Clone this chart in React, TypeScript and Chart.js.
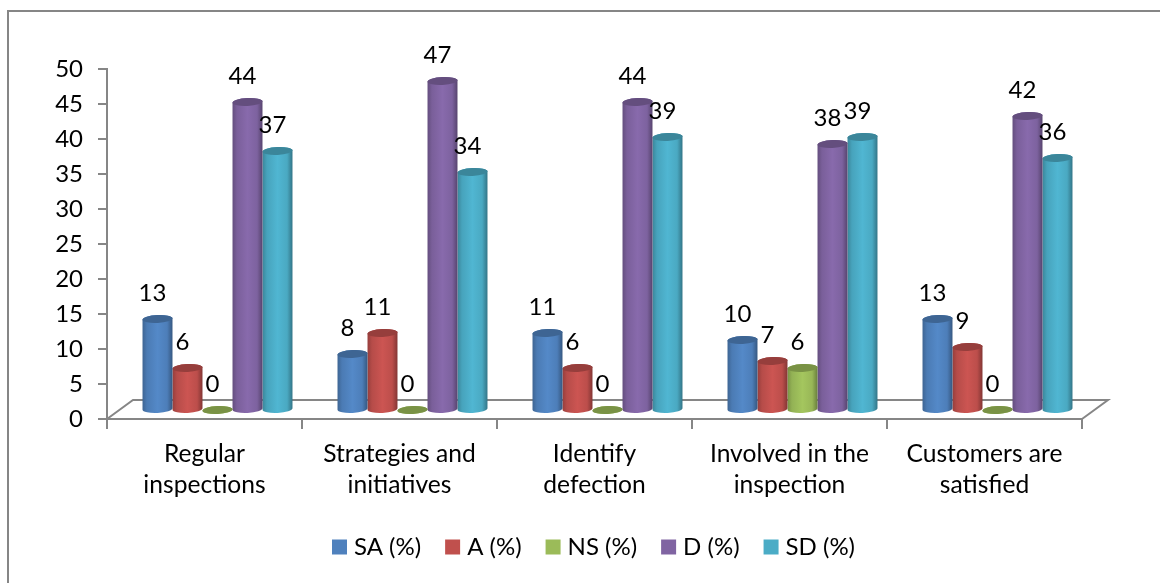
import React, { useEffect, useRef } from "react";
import { Chart, registerables } from "chart.js";

Chart.register(...registerables);

const categories = [
  ["Regular", "inspections"],
  ["Strategies and", "initiatives"],
  ["Identify", "defection"],
  ["Involved in the", "inspection"],
  ["Customers are", "satisfied"],
];
const saValues = [13, 8, 11, 10, 13];
const aValues = [6, 11, 6, 7, 9];
const nsValues = [0, 0, 0, 6, 0];
const dValues = [44, 47, 44, 38, 42];
const sdValues = [37, 34, 39, 39, 36];

const FONT = "Lato";
const GREY = "#868686";
const DEPTH_X = 13;
const DEPTH_Y = -9;
const FLOOR_X = 26;
const FLOOR_Y = -19;

function shade(hex: string, f: number) {
  const n = parseInt(hex.slice(1), 16);
  const c = [(n >> 16) & 255, (n >> 8) & 255, n & 255].map((v) => Math.min(255, Math.round(v * f)));
  return `rgb(${c[0]},${c[1]},${c[2]})`;
}

const cylinders = {
  id: "cylinders",
  afterLayout(chart: any) {
    const l = chart.legend;
    l.left = 0;
    l.right = 1192;
    l.top -= 14;
    l.bottom -= 14;
  },
  beforeDatasetsDraw(chart: any) {
    const { ctx, chartArea: a } = chart;
    ctx.save();
    ctx.strokeStyle = GREY;
    ctx.lineWidth = 2;
    ctx.beginPath();
    ctx.moveTo(a.left, a.bottom);
    ctx.lineTo(a.left + FLOOR_X, a.bottom + FLOOR_Y);
    ctx.lineTo(a.right + FLOOR_X, a.bottom + FLOOR_Y);
    ctx.lineTo(a.right, a.bottom);
    ctx.stroke();
    ctx.restore();
  },
  beforeDatasetDraw(chart: any, args: any) {
    const { ctx } = chart;
    const color = chart.data.datasets[args.index].backgroundColor as string;
    const meta = chart.getDatasetMeta(args.index);
    const ry = 4;
    const tilt = 0.05;
    for (const bar of meta.data as any[]) {
      const cx = bar.x + DEPTH_X;
      const r = bar.width / 2;
      const top = bar.y + DEPTH_Y;
      const base = bar.base + DEPTH_Y;
      const g = ctx.createLinearGradient(cx - r, 0, cx + r, 0);
      g.addColorStop(0, shade(color, 0.78));
      g.addColorStop(0.15, shade(color, 0.95));
      g.addColorStop(0.5, shade(color, 1.06));
      g.addColorStop(0.82, shade(color, 0.98));
      g.addColorStop(1, shade(color, 0.68));
      ctx.save();
      ctx.fillStyle = g;
      ctx.beginPath();
      ctx.ellipse(cx, base, r, ry, -tilt, 0, Math.PI);
      ctx.ellipse(cx, top, r, ry, -tilt, Math.PI, Math.PI * 2);
      ctx.closePath();
      ctx.fill();
      ctx.fillStyle = shade(color, 0.78);
      ctx.beginPath();
      ctx.ellipse(cx, top, r, ry, -tilt, 0, Math.PI * 2);
      ctx.fill();
      ctx.restore();
    }
    return false;
  },
  afterDatasetsDraw(chart: any) {
    const { ctx } = chart;
    ctx.save();
    ctx.fillStyle = "#000";
    ctx.font = `24px ${FONT}`;
    ctx.textAlign = "center";
    ctx.textBaseline = "middle";
    chart.data.datasets.forEach((ds: any, i: number) => {
      chart.getDatasetMeta(i).data.forEach((bar: any, j: number) => {
        ctx.fillText(String(ds.data[j]), bar.x + DEPTH_X - 5, bar.y + DEPTH_Y - 26);
      });
    });
    ctx.restore();
  },
};

export default function App() {
  const ref = useRef<HTMLCanvasElement>(null);
  useEffect(() => {
    const chart = new Chart(ref.current!, {
      type: "bar",
      data: {
        labels: categories,
        datasets: [
          { label: "SA (%)", data: saValues, backgroundColor: "#4f81bd" },
          { label: "A (%)", data: aValues, backgroundColor: "#c0504d" },
          { label: "NS (%)", data: nsValues, backgroundColor: "#9bbb59" },
          { label: "D (%)", data: dValues, backgroundColor: "#8064a2" },
          { label: "SD (%)", data: sdValues, backgroundColor: "#4bacc6" },
        ],
      },
      options: {
        responsive: false,
        animation: false,
        layout: { padding: { top: 69, right: 78, left: 0, bottom: 0 } },
        datasets: { bar: { barPercentage: 1, categoryPercentage: 150 / 195 } },
        plugins: {
          tooltip: { enabled: false },
          legend: {
            position: "bottom",
            labels: {
              color: "#000",
              font: { family: FONT, size: 24 },
              boxWidth: 5,
              boxHeight: 5,
              padding: 29,
              generateLabels(chart: any) {
                return chart.data.datasets.map((d: any, i: number) => ({
                  text: d.label,
                  fontColor: "#000",
                  fillStyle: d.backgroundColor,
                  strokeStyle: d.backgroundColor,
                  lineWidth: 10,
                  lineJoin: "miter",
                  datasetIndex: i,
                }));
              },
            },
          },
        },
        scales: {
          x: {
            grid: { drawOnChartArea: false, color: GREY, lineWidth: 2, tickLength: 10 },
            border: { color: GREY, width: 2 },
            ticks: {
              color: "#000",
              font: { family: FONT, size: 24.6, lineHeight: 1.26 },
              padding: 10,
              maxRotation: 0,
              autoSkip: false,
            },
            afterFit(s: any) {
              s.height = 101;
            },
          },
          y: {
            min: 0,
            max: 50,
            grid: { drawOnChartArea: false, color: GREY, lineWidth: 2, tickLength: 9 },
            border: { color: GREY, width: 2 },
            ticks: {
              stepSize: 5,
              color: "#000",
              font: { family: FONT, size: 24 },
              padding: 15,
            },
            afterFit(s: any) {
              s.width = 107;
            },
          },
        },
      },
      plugins: [cylinders],
    } as any);
    return () => chart.destroy();
  }, []);
  return (
    <div style={{ position: "fixed", left: 0, top: 0, width: 1160, height: 583, background: "#fff", overflow: "hidden" }}>
      <div
        style={{
          position: "absolute",
          left: 7,
          top: 10,
          width: 1153,
          height: 573,
          borderTop: "2px solid #868686",
          borderLeft: "2px solid #868686",
          boxSizing: "border-box",
        }}
      />
      <canvas ref={ref} width={1160} height={583} style={{ position: "absolute", left: 0, top: 0 }} />
    </div>
  );
}
